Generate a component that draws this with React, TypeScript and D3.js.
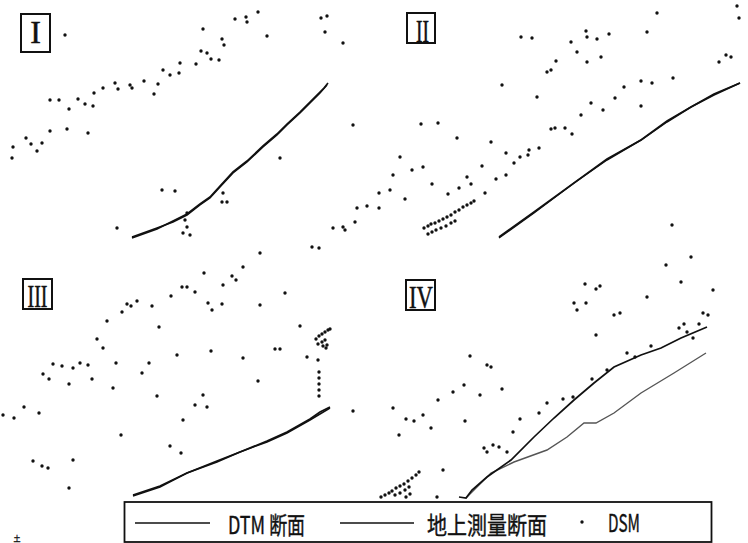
import React from "react";
import * as d3 from "d3";

type Pt = [number, number];

// ---- Data (distance, elevation) per panel ----
const panelLabels = ["I", "II", "III", "IV"];
const legendLabels = ["DTM 断面", "地上測量断面", "DSM"];
const footLabel = "土";

const dsmI: Pt[] = [
  [117.5, 120.5], [123, 121.5], [123.5, 119], [129, 124], [160.5, 121], [163.5, 122], [162.5, 114],
  [101.5, 115.5], [111, 110.5], [112, 107.5], [100.5, 104.5], [103.5, 103.5], [105.5, 100.5], [109.5, 100],
  [90, 98.5], [98, 98], [81.5, 95], [85, 92.5], [89.5, 93.5], [72, 89.5], [79, 88], [77, 83],
  [57.5, 88.5], [59, 85.5], [51.5, 86], [65, 87.5], [66, 86], [47, 83.5], [46.5, 77], [39, 80.5],
  [42.5, 78], [25, 80], [29.5, 80], [34.5, 75.5], [25, 64.5], [33.5, 65.5], [44, 63.5], [13, 61],
  [15.5, 58], [21, 58.5], [18.5, 54.5], [6.5, 56.5], [6, 51], [32.5, 112.5], [133.5, 112], [171.5, 108.5],
  [176.5, 67.5], [140, 51], [87.5, 34.5], [81, 35], [111.5, 33.5], [111, 29], [113.5, 29], [93.5, 23.5],
  [92.5, 20], [93.5, 16.5], [91.5, 13.5], [95, 12.5], [58.5, 16], [178.5, 26], [183.5, 27], [177.5, 19],
  [166.5, 16], [171.5, 16.5], [172.5, 15], [156, 6.5], [159.5, 6], [130, 3.5],
];
const dtmI: Pt[] = [
  [66, 11.5], [78.5, 16], [86.5, 19], [93.5, 22.5], [100, 27.5], [105, 31], [110, 36.5], [116.5, 43.5],
  [123.5, 49], [131.5, 56.5], [138.5, 62.5], [143.5, 67.5], [150, 73.5], [155, 78.5], [160, 83.5], [163.5, 87.5],
];
const surveyI: Pt[] = [
  [66, 11], [78.5, 15.5], [86.5, 19.5], [93.5, 23], [100, 28], [105, 31.5], [110, 37], [116.5, 44],
  [123.5, 49.5], [131.5, 57], [138.5, 63], [143.5, 68], [150, 74], [155, 79], [160, 84], [162, 86], [164, 88.5],
];

const dsmII: Pt[] = [
  [181.5, 127], [182.5, 121], [141.5, 123.5], [136.5, 114], [117.5, 113], [106.5, 111.5], [111.5, 110.5],
  [98.5, 109], [101.5, 104], [113.5, 101.5], [106.5, 99], [91, 99.5], [86.5, 94], [88.5, 95], [172.5, 99],
  [176, 102.5], [178.5, 101.5], [149.5, 91], [133.5, 89.5], [139, 88.5], [125, 86.5], [120.5, 81],
  [108.5, 78.5], [114.5, 75], [133.5, 77], [103.5, 72.5], [81.5, 81.5], [64, 87.5], [32, 68.5], [23.5, 68],
  [73.5, 111.5], [79, 111], [106, 114.5], [41.5, 61], [58.5, 59], [88.5, 65.5], [90.5, 66], [95.5, 66],
  [99, 63], [66, 53.5], [77.5, 55], [77, 52.5], [73, 51.5], [70, 48.5], [82.5, 56], [54, 47], [66, 42.5],
  [61, 40.5], [46.5, 41.5], [48.5, 38], [42.5, 36], [55.5, 33.5], [37, 33], [29, 38], [13, 51.5], [19, 45],
  [24.5, 46.5], [9.5, 42.5], [8, 35], [15.5, 30.5], [2.5, 33.5], [2.5, 26], [158.5, 1.5], [149, 17.5],
  [25, 16], [27, 17], [28.5, 18], [30.5, 18.5], [32.5, 19.5], [34.5, 20.5], [36.5, 21.5], [38.5, 22.5],
  [40.5, 24], [42.5, 25], [44.5, 26.5], [46.5, 27.5], [48.5, 28.5], [50, 29.5],
  [27, 13], [29, 14], [31, 15], [33.5, 16], [36, 17], [38.5, 18.5], [40.5, 19.5],
];
const dtmII: Pt[] = [
  [62.5, 11], [80, 23.5], [100, 38.5], [116.5, 50], [133.5, 60], [146.5, 69], [158.5, 76.5], [170, 82.5], [183, 88.5],
];
const surveyII: Pt[] = [
  [62.5, 11.5], [80, 24], [100, 38.5], [116.5, 50.5], [133.5, 60], [146.5, 69.5], [158.5, 76.5], [170, 83], [183, 88.5],
];

const dsmIII: Pt[] = [
  [121.5, 126.5], [116, 122], [118, 120], [102, 123.5], [91, 116.5], [93.5, 116.5], [97.5, 114], [111.5, 117.5],
  [85.5, 112], [63.5, 108], [65.5, 107], [68.5, 109.5], [76, 107], [61, 104], [53.5, 99.5], [104, 108.5],
  [106, 105], [111, 108], [130, 107.5], [142.5, 113.5], [79.5, 96.5], [48.5, 90.5], [51.5, 86], [26.5, 78],
  [31, 77], [36.5, 76], [40, 78.5], [44, 77.5], [21.5, 73], [24.5, 70.5], [34.5, 68], [46, 70.5], [58, 78.5],
  [74.5, 78.5], [71, 73.5], [88.5, 82.5], [105.5, 84.5], [121.5, 81], [129, 69.5], [137.5, 85.5], [140, 85.5],
  [150, 97], [153.5, 81.5], [159, 80],
  [158, 90.5], [159.5, 92], [161, 93], [162.5, 94], [164, 95], [165, 95.5], [159, 88], [161, 89], [162.5, 90],
  [161.5, 87], [163.5, 87.5], [163, 86],
  [159.5, 74], [159.5, 71], [159.5, 68], [159.5, 65], [159.5, 62],
  [56.5, 66], [78.5, 62], [101.5, 62.5], [97.5, 57.5], [103.5, 56.5], [91.5, 50], [1.5, 52.5], [7, 51],
  [12, 56.5], [19.5, 53.5], [60.5, 42.5], [85, 37], [90.5, 33.5], [16.5, 29.5], [21, 27], [24, 26],
  [36.5, 30], [34.5, 16], [176.5, 54.5],
];
const dtmIII: Pt[] = [
  [66.5, 12], [80, 16.5], [93.5, 23.5], [108.5, 29], [120, 34], [133.5, 39], [143.5, 43.5], [155, 50], [165, 56],
];
const surveyIII: Pt[] = [
  [66.5, 12.5], [80, 17], [93.5, 23.5], [108.5, 29.5], [120, 34], [133.5, 39.5], [143.5, 44], [155, 50.5], [160, 54], [165, 56.5],
];

const dsmIV: Pt[] = [
  [146, 127.5], [153.5, 119], [169.5, 115], [105.5, 118], [111, 115.5], [113, 117], [100, 108.5], [101.5, 105],
  [106, 108.5], [136.5, 111.5], [120, 102.5], [123, 103.5], [164.5, 103.5], [167, 102.5], [111, 92.5],
  [152.5, 96], [155, 98], [162.5, 98], [156.5, 94], [159.5, 91], [126.5, 83.5], [130.5, 81.5], [138.5, 87],
  [116.5, 75], [109, 70.5], [48, 82], [56.5, 77.5], [58.5, 76.5], [45, 67.5], [39.5, 64], [32, 60], [64, 65.5],
  [53, 62.5], [9.5, 56], [24.5, 52.5], [16, 50.5], [20, 49.5], [12.5, 42.5], [28.5, 46], [45.5, 49.5],
  [73, 50.5], [82.5, 53.5], [86.5, 58.5], [94.5, 60.5], [99.5, 61.5], [69.5, 44], [55, 36], [56.5, 34],
  [59.5, 37.5], [62.5, 36.5], [66.5, 34], [34.5, 25], [31.5, 11.5],
  [3.5, 11.5], [5.5, 12.5], [7.5, 13.5], [9, 14.5], [11, 16], [13, 17], [15, 18], [17, 19.5], [19, 21],
  [21, 22.5], [22.5, 24], [10.5, 12.5], [13, 13.5], [15.5, 15], [17.5, 16.5], [16, 11.5], [18, 13],
];
const surveyIV: Pt[] = [
  [42.5, 11.5], [46, 11], [49, 15], [56.5, 21.5], [68.5, 30], [80, 41.5], [90, 51], [100, 60], [110, 68.5],
  [120, 76.5], [133.5, 82.5], [143.5, 86], [153.5, 91], [166.5, 96.5],
];
const dtmIV: Pt[] = [
  [46, 11], [50, 15], [58.5, 23.5], [70, 29], [86.5, 35], [96.5, 41.5], [105, 48.5], [111, 48.5], [120, 53.5],
  [133.5, 63.5], [150, 73.5], [166, 83.5],
];

const xDomain: [number, number] = [0, 187];
const yDomain: [number, number] = [0, 130];

// ---- Layout ----
const W = 748;
const H = 543;
const panelW = 374;
const panelH = 260;

const panels = [
  { dsm: dsmI, dtm: dtmI, survey: surveyI, left: 0, top: 0, box: [21, 14, 29, 38], tx: 35.5, ty: 43, tl: 0, dtmColor: "#111", dtmW: 1.5 },
  { dsm: dsmII, dtm: dtmII, survey: surveyII, left: 374, top: 0, box: [407, 13, 28, 30], tx: 422.5, ty: 41.5, tl: 13, dtmColor: "#111", dtmW: 1.5 },
  { dsm: dsmIII, dtm: dtmIII, survey: surveyIII, left: 0, top: 260, box: [23, 279, 29, 30], tx: 37.5, ty: 307, tl: 20, dtmColor: "#111", dtmW: 1.5 },
  { dsm: dsmIV, dtm: dtmIV, survey: surveyIV, left: 374, top: 260, box: [406, 280, 29, 30], tx: 421, ty: 308, tl: 24, dtmColor: "#555", dtmW: 1.4 },
];

function Panel({ p, label }: { p: (typeof panels)[number]; label: string }) {
  const x = d3.scaleLinear().domain(xDomain).range([p.left, p.left + panelW]);
  const y = d3.scaleLinear().domain(yDomain).range([p.top + panelH, p.top]);
  const line = d3
    .line<Pt>()
    .x((d) => x(d[0]))
    .y((d) => y(d[1]))
    .curve(d3.curveLinear);
  const [bx, by, bw, bh] = p.box;
  return (
    <g>
      <rect x={bx} y={by} width={bw} height={bh} fill="white" stroke="#111" strokeWidth={2} />
      <text
        x={p.tx}
        y={p.ty}
        textAnchor="middle"
        fontFamily="'Liberation Serif', 'DejaVu Serif', serif"
        fontSize={32}
        fill="#111"
        stroke="#111"
        strokeWidth={0.5}
        {...(p.tl ? { textLength: p.tl, lengthAdjust: "spacingAndGlyphs" } : {})}
      >
        {label}
      </text>
      {p.dsm.map((d, i) => (
        <circle key={i} cx={x(d[0])} cy={y(d[1])} r={1.7} fill="#111" />
      ))}
      <path d={line(p.dtm) || ""} fill="none" stroke={p.dtmColor} strokeWidth={p.dtmW} />
      <path d={line(p.survey) || ""} fill="none" stroke="#111" strokeWidth={1.7} />
    </g>
  );
}

export default function App() {
  const legendFont = "'Noto Sans CJK JP', 'Noto Sans', sans-serif";
  return (
    <svg
      width={W}
      height={H}
      viewBox={`0 0 ${W} ${H}`}
      style={{ position: "absolute", left: 0, top: 0, background: "white", display: "block" }}
    >
      <rect x={0} y={0} width={W} height={H} fill="white" />
      {panels.map((p, i) => (
        <Panel key={i} p={p} label={panelLabels[i]} />
      ))}
      {/* Legend */}
      <g>
        <rect x={124.5} y={502} width={587} height={40} fill="white" stroke="#111" strokeWidth={1.8} />
        <line x1={135} x2={210} y1={523} y2={523} stroke="#111" strokeWidth={1.5} />
        <text x={228} y={534} fontFamily={legendFont} fontSize={24} fill="#111" stroke="#111" strokeWidth={0.4} textLength={77} lengthAdjust="spacingAndGlyphs">
          {legendLabels[0]}
        </text>
        <line x1={340} x2={414} y1={523} y2={523} stroke="#111" strokeWidth={1.7} />
        <text x={427} y={534} fontFamily={legendFont} fontSize={24} fill="#111" stroke="#111" strokeWidth={0.4} textLength={120} lengthAdjust="spacingAndGlyphs">
          {legendLabels[1]}
        </text>
        <circle cx={582} cy={522} r={1.7} fill="#111" />
        <text x={608} y={532} fontFamily={legendFont} fontSize={24} fill="#111" stroke="#111" strokeWidth={0.4} textLength={32} lengthAdjust="spacingAndGlyphs">
          {legendLabels[2]}
        </text>
      </g>
      <text x={17} y={541} textAnchor="middle" fontFamily={legendFont} fontSize={7} fill="#111" stroke="#111" strokeWidth={0.3}>
        {footLabel}
      </text>
    </svg>
  );
}
